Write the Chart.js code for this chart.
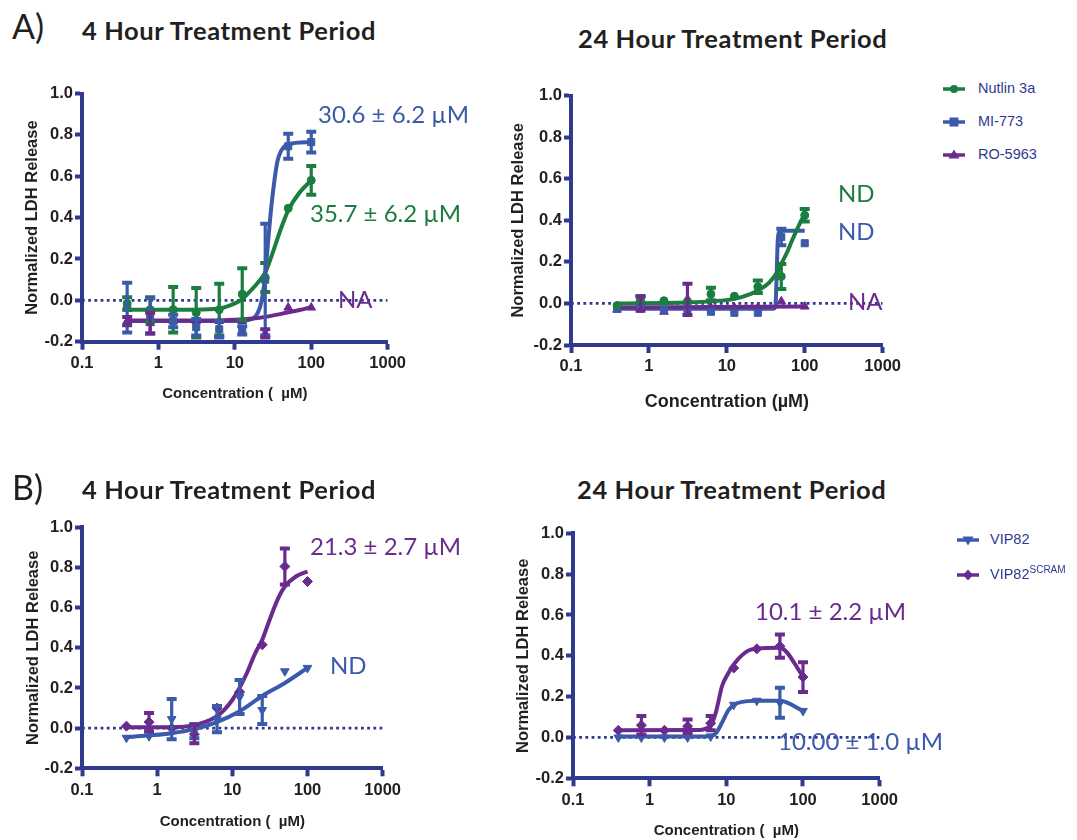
<!DOCTYPE html>
<html><head><meta charset="utf-8">
<script src="https://cdn.jsdelivr.net/npm/chart.js@4.4.1/dist/chart.umd.min.js"></script>
<style>
html,body{margin:0;padding:0;background:#fff;}
body{width:1077px;height:840px;position:relative;overflow:hidden;}
canvas{position:absolute;}
.t{position:absolute;white-space:nowrap;line-height:1.2;font-family:Lato,sans-serif;}
.ttl{font-weight:700;font-size:25.5px;letter-spacing:0.6px;color:#231f20;}
.lbl{font-weight:400;font-size:34px;color:#231f20;}
.ann{font-weight:400;font-size:24px;}
.leg{position:absolute;font-family:'Liberation Sans',Arial,sans-serif;font-size:14.5px;color:#2f3a8f;line-height:1.2;white-space:nowrap;}
.sym{position:absolute;}
</style></head>
<body>
<canvas id="a4"></canvas>
<canvas id="a24"></canvas>
<canvas id="b4"></canvas>
<canvas id="b24"></canvas>
<div id="overlay"></div>
<script>
const NAVY='#2f3a8f', BLUE='#3b5aa9', GREEN='#1b7d3f', PURPLE='#6a2b8f', INK='#231f20';

// ---- axes ----
const xTickValues=[0.1,1,10,100,1000];
const xTickLabels=['0.1','1','10','100','1000'];
const yTickValues=[-0.2,0,0.2,0.4,0.6,0.8,1.0];
const yTickLabels=['-0.2','0.0','0.2','0.4','0.6','0.8','1.0'];

// ---- concentrations (µM) ----
const conc=[0.39,0.78,1.56,3.125,6.25,12.5,25,50,100];

// ---- A) 4 hour ----
const nutlin4h   =[-0.015,-0.045,-0.045,-0.06,-0.045,0.03,0.11,0.445,0.58];
const nutlin4hErr=[0.03,0.06,0.11,0.12,0.125,0.125,0.07,0,0.07];
const mi4h       =[-0.035,-0.075,-0.1,-0.13,-0.14,-0.145,0.1,0.745,0.765];
const mi4hErr    =[0.12,0.085,0.03,0.04,0.04,0.02,0.27,0.06,0.05];
const ro4h       =[-0.1,-0.11,-0.1,-0.1,-0.1,-0.1,-0.16,-0.035,-0.035];
const ro4hErr    =[0.02,0.05,0,0,0,0,0.02,0,0];
const nutlin4hFitX=[0.39,1,3,6.25,10,12.5,15,20,25,30,40,50,70,100];
const nutlin4hFitY=[-0.045,-0.045,-0.045,-0.04,-0.015,0.005,0.035,0.085,0.135,0.21,0.345,0.435,0.52,0.58];
const mi4hFitX=[0.39,5,10,15,20,22.5,25,27.5,30,33,36,40,50,100];
const mi4hFitY=[-0.1,-0.1,-0.1,-0.095,-0.06,0.0,0.12,0.3,0.45,0.58,0.67,0.72,0.755,0.765];
const ro4hFitX=[0.39,5,10,20,30,50,70,100];
const ro4hFitY=[-0.097,-0.097,-0.094,-0.085,-0.075,-0.058,-0.047,-0.033];

// ---- A) 24 hour ----
const nutlin24h   =[-0.01,0.02,0.013,0.01,0.045,0.035,0.08,0.13,0.425];
const nutlin24hErr=[0,0.015,0,0,0.03,0,0.03,0.06,0.03];
const mi24h       =[-0.025,-0.025,-0.03,-0.04,-0.04,-0.045,-0.045,0.32,0.29];
const mi24hErr    =[0,0,0,0,0,0,0,0.04,0];
const ro24h       =[-0.03,0.0,-0.04,0.02,-0.02,-0.02,-0.02,0.01,-0.015];
const ro24hErr    =[0,0.035,0,0.075,0,0,0,0,0];
const nutlin24hFitX=[0.39,3,6.25,12.5,20,25,35,45,50,60,70,85,100];
const nutlin24hFitY=[0.0,0.005,0.01,0.022,0.045,0.062,0.1,0.155,0.19,0.25,0.31,0.38,0.43];
const mi24hFitX=[0.39,40,42,43.5,45,47,50,100];
const mi24hFitY=[-0.025,-0.025,-0.015,0.12,0.3,0.345,0.35,0.35];
const ro24hFitX=[0.39,100];
const ro24hFitY=[-0.02,-0.015];

// ---- B) 4 hour ----
const vip4h      =[-0.048,-0.04,0.045,-0.015,0.045,0.155,0.09,0.283,0.3];
const vip4hErr   =[0,0,0.1,0.035,0.065,0.085,0.07,0,0];
const scram4h    =[0.01,0.03,0.0,-0.03,0.1,0.18,0.415,0.805,0.73];
const scram4hErr =[0,0.045,0,0.045,0,0,0,0.09,0];
const vip4hFitX=[0.39,1.56,3.125,6.25,12.5,25,50,100];
const vip4hFitY=[-0.045,-0.025,-0.005,0.03,0.084,0.16,0.225,0.3];
const scram4hFitX=[0.39,1.56,3.125,6.25,10,15,20,25,30,40,50,70,100];
const scram4hFitY=[0.005,0.005,0.015,0.06,0.14,0.26,0.37,0.44,0.52,0.64,0.705,0.755,0.78];

// ---- B) 24 hour ----
const vip24h     =[0.0,0.0,0.0,0.0,0.005,0.16,0.18,0.17,0.13];
const vip24hErr  =[0,0,0,0,0,0,0,0.073,0];
const scram24h   =[0.035,0.06,0.035,0.055,0.07,0.34,0.434,0.447,0.296];
const scram24hErr=[0,0.045,0,0.033,0.035,0,0,0.057,0.073];
const vip24hFitX=[0.39,5,6.25,7.3,8.8,10.7,13,19,25,50,100];
const vip24hFitY=[0.005,0.005,0.007,0.02,0.073,0.135,0.163,0.178,0.18,0.18,0.13];
const scram24hFitX=[0.39,4,6.25,7.3,8.8,10.7,13,19,25,50,100];
const scram24hFitY=[0.035,0.036,0.058,0.122,0.252,0.317,0.366,0.424,0.435,0.44,0.3];

const zeroX=[0.1,1000], zeroY=[0,0];

function pts(xs,ys){return xs.map((x,i)=>({x:x,y:ys[i]}));}

const errorBarPlugin={
  id:'errbars',
  afterDatasetsDraw(chart){
    const ctx=chart.ctx, xs=chart.scales.x, ys=chart.scales.y;
    chart.data.datasets.forEach(ds=>{
      if(!ds.errors) return;
      ctx.save();
      ctx.strokeStyle=ds.borderColor;
      ds.data.forEach((p,i)=>{
        const e=ds.errors[i]; if(!e) return;
        const px=xs.getPixelForValue(p.x);
        const top=ys.getPixelForValue(p.y+e), bot=ys.getPixelForValue(p.y-e);
        ctx.lineWidth=3.2;
        ctx.beginPath();ctx.moveTo(px,top);ctx.lineTo(px,bot);ctx.stroke();
        ctx.lineWidth=4;
        ctx.beginPath();
        ctx.moveTo(px-5,top);ctx.lineTo(px+5,top);
        ctx.moveTo(px-5,bot);ctx.lineTo(px+5,bot);
        ctx.stroke();
      });
      ctx.restore();
    });
  }
};

function markerDs(ys,errs,color,style,rot){
  return {type:'line',data:pts(conc,ys),showLine:false,pointStyle:style,pointRotation:rot||0,
    pointRadius:style==='circle'?4:5,pointBackgroundColor:color,pointBorderColor:color,borderColor:color,
    backgroundColor:color,pointBorderWidth:1,errors:errs,order:1};
}
function fitDs(xs,ys,color){
  return {type:'line',data:pts(xs,ys),borderColor:color,borderWidth:4,pointRadius:0,
    cubicInterpolationMode:'monotone',fill:false,order:5};
}
function zeroDs(){
  return {type:'line',data:pts(zeroX,zeroY),borderColor:NAVY,borderWidth:2.8,borderDash:[2.8,3.4],
    pointRadius:0,fill:false,order:10};
}

const layouts={
  a4 :{cx:23, cy:80, Rc:410,Bc:403,L:82, R:398,T:93.5, B:341.7,xt:'Concentration (  \u00b5M)',xts:15},
  a24:{cx:509,cy:80, Rc:905,Bc:413,L:571,R:893,T:95.7, B:345,  xt:'Concentration (\u00b5M)',xts:18},
  b4 :{cx:24, cy:505,Rc:405,Bc:831,L:82, R:392,T:527.3,B:768.3,xt:'Concentration (  \u00b5M)',xts:15},
  b24:{cx:514,cy:505,Rc:902,Bc:840,L:573,R:889,T:533.3,B:778.3,xt:'Concentration (  \u00b5M)',xts:15}
};

function makeChart(id,datasets){
  const g=layouts[id];
  const cv=document.getElementById(id);
  const cw=g.Rc-g.cx, ch=g.Bc-g.cy;
  cv.width=cw; cv.height=ch;
  cv.style.left=g.cx+'px'; cv.style.top=g.cy+'px';
  cv.style.width=cw+'px'; cv.style.height=ch+'px';
  const yw=g.L-g.cx, xh=g.Bc-g.B;
  const tickFont={family:"'Liberation Sans', Arial, sans-serif",weight:'bold',size:16.5};
  new Chart(cv,{
    data:{datasets:datasets},
    plugins:[errorBarPlugin],
    options:{
      responsive:false,animation:false,devicePixelRatio:1,
      layout:{padding:{left:0,top:g.T-g.cy,right:g.Rc-g.R,bottom:0},autoPadding:false},
      plugins:{legend:{display:false},tooltip:{enabled:false}},
      scales:{
        x:{type:'logarithmic',position:'bottom',min:0.1,max:1000,
          afterBuildTicks:s=>{s.ticks=xTickValues.map(v=>({value:v}));},
          afterFit:s=>{s.height=xh;},
          ticks:{callback:(v,i)=>xTickLabels[i],font:tickFont,color:INK,padding:4,maxRotation:0,autoSkip:false},
          grid:{display:true,drawOnChartArea:false,drawTicks:true,tickLength:8,tickWidth:4,tickColor:NAVY,color:NAVY},
          border:{display:true,color:NAVY,width:4},
          title:{display:true,text:g.xt,color:INK,padding:0,
            font:{family:"'Liberation Sans', Arial, sans-serif",weight:'bold',size:g.xts}}
        },
        y:{type:'linear',position:'left',min:-0.2,max:1.0,
          afterBuildTicks:s=>{s.ticks=yTickValues.map(v=>({value:v}));},
          afterFit:s=>{s.width=yw;},
          ticks:{callback:(v,i)=>yTickLabels[i],font:tickFont,color:INK,padding:2,autoSkip:false},
          grid:{display:true,drawOnChartArea:false,drawTicks:true,tickLength:7,tickWidth:4,tickColor:NAVY,color:NAVY},
          border:{display:true,color:NAVY,width:4},
          title:{display:true,text:'Normalized LDH Release',color:INK,padding:0,
            font:{family:"'Liberation Sans', Arial, sans-serif",weight:'bold',size:16.5}}
        }
      }
    }
  });
}

makeChart('a4',[
  markerDs(nutlin4h,nutlin4hErr,GREEN,'circle'),
  markerDs(mi4h,mi4hErr,BLUE,'rect'),
  markerDs(ro4h,ro4hErr,PURPLE,'triangle'),
  fitDs(ro4hFitX,ro4hFitY,PURPLE),
  fitDs(mi4hFitX,mi4hFitY,BLUE),
  fitDs(nutlin4hFitX,nutlin4hFitY,GREEN),
  zeroDs()
]);
makeChart('a24',[
  markerDs(nutlin24h,nutlin24hErr,GREEN,'circle'),
  markerDs(mi24h,mi24hErr,BLUE,'rect'),
  markerDs(ro24h,ro24hErr,PURPLE,'triangle'),
  fitDs(ro24hFitX,ro24hFitY,PURPLE),
  fitDs(nutlin24hFitX,nutlin24hFitY,GREEN),
  fitDs(mi24hFitX,mi24hFitY,BLUE),
  zeroDs()
]);
makeChart('b4',[
  markerDs(vip4h,vip4hErr,BLUE,'triangle',180),
  markerDs(scram4h,scram4hErr,PURPLE,'rectRot'),
  fitDs(scram4hFitX,scram4hFitY,PURPLE),
  fitDs(vip4hFitX,vip4hFitY,BLUE),
  zeroDs()
]);
makeChart('b24',[
  markerDs(vip24h,vip24hErr,BLUE,'triangle',180),
  markerDs(scram24h,scram24hErr,PURPLE,'rectRot'),
  fitDs(scram24hFitX,scram24hFitY,PURPLE),
  fitDs(vip24hFitX,vip24hFitY,BLUE),
  zeroDs()
]);

// ---- text overlays ----
const ov=document.getElementById('overlay');
function txt(cls,html,left,cy,size,color){
  const d=document.createElement('div');
  d.className='t '+cls; d.innerHTML=html;
  d.style.left=left+'px'; d.style.top=(cy-0.63*size)+'px';
  if(color) d.style.color=color;
  ov.appendChild(d);
}
txt('lbl','A)',12,27,34);
txt('lbl','B)',12,488,34);
txt('ttl','4 Hour Treatment Period',82,31,25.5);
txt('ttl','24 Hour Treatment Period',578,39,25.5);
txt('ttl','4 Hour Treatment Period',82,490,25.5);
txt('ttl','24 Hour Treatment Period',577,490,25.5);

txt('ann','30.6 \u00b1 6.2 \u00b5M',318,115.5,24,BLUE);
txt('ann','35.7 \u00b1 6.2 \u00b5M',310,214,24,GREEN);
txt('ann','NA',338,300,24,PURPLE);
txt('ann','ND',838,194,24,GREEN);
txt('ann','ND',838,232,24,BLUE);
txt('ann','NA',848,302,24,PURPLE);
txt('ann','21.3 \u00b1 2.7 \u00b5M',310,547,24,PURPLE);
txt('ann','ND',330,666,24,BLUE);
txt('ann','10.1 \u00b1 2.2 \u00b5M',755,612,24,PURPLE);
txt('ann','10.00 \u00b1 1.0 \u00b5M',778,742,24,BLUE);

const symbols={
  circle:'<circle cx="11" cy="7" r="4"/>',
  rect:'<rect x="6.5" y="2.5" width="9" height="9"/>',
  triangle:'<polygon points="11,1.5 16.5,10.5 5.5,10.5"/>',
  invtri:'<polygon points="5.5,3.5 16.5,3.5 11,12.5"/>',
  diamond:'<polygon points="11,1.5 16,7 11,12.5 6,7"/>'
};
function legendRow(lineX,textX,cy,color,sym,label){
  const s=document.createElement('div');
  s.className='sym'; s.style.left=lineX+'px'; s.style.top=(cy-7)+'px';
  s.innerHTML='<svg width="22" height="14" viewBox="0 0 22 14"><line x1="0" y1="7" x2="22" y2="7" stroke="'+color+'" stroke-width="3.5"/><g fill="'+color+'">'+symbols[sym]+'</g></svg>';
  ov.appendChild(s);
  const d=document.createElement('div');
  d.className='leg'; d.innerHTML=label;
  d.style.left=textX+'px'; d.style.top=(cy-0.588*14.5)+'px';
  ov.appendChild(d);
}
legendRow(943,978,89,GREEN,'circle','Nutlin 3a');
legendRow(943,978,122,BLUE,'rect','MI-773');
legendRow(943,978,155,PURPLE,'triangle','RO-5963');
legendRow(957,990,540,BLUE,'invtri','VIP82');
legendRow(957,990,575,PURPLE,'diamond','VIP82<sup style="font-size:10px;vertical-align:6px;line-height:0">SCRAM</sup>');
</script>
</body></html>
